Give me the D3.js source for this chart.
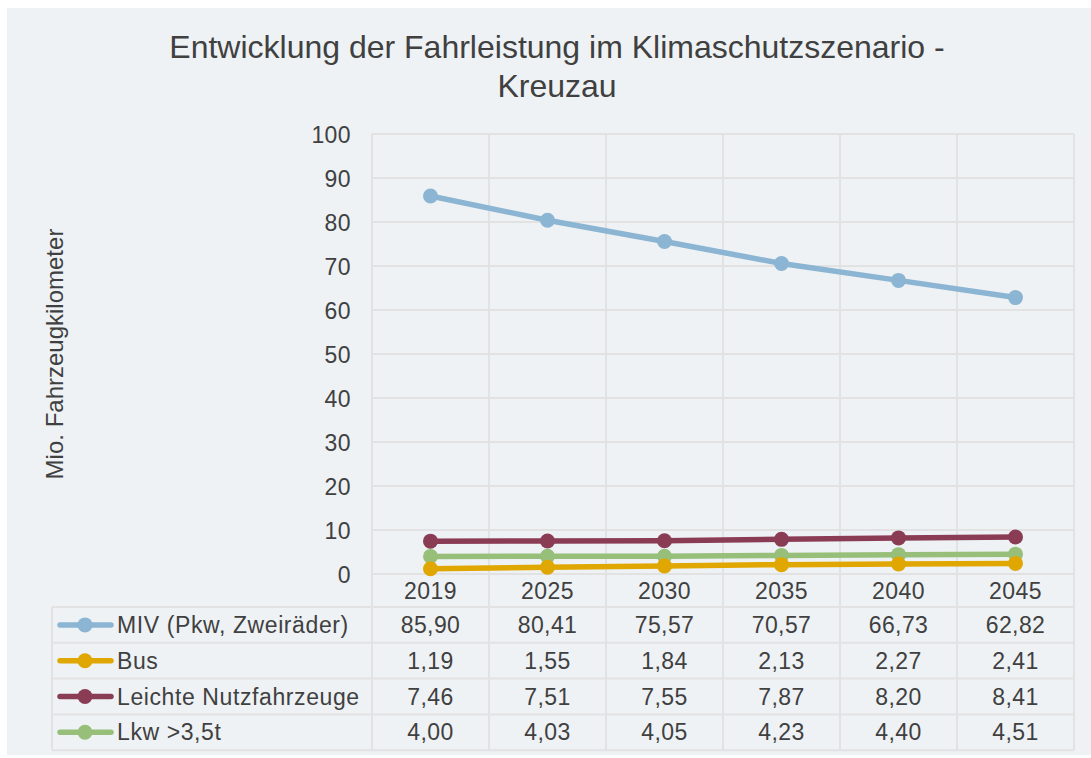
<!DOCTYPE html>
<html><head><meta charset="utf-8">
<script src="https://cdn.jsdelivr.net/npm/d3@7"></script>
<style>body{margin:0;background:#fff;} svg{display:block;font-family:"Liberation Sans",Arial,sans-serif;}</style>
</head><body>
<svg id="c" width="1091" height="758"></svg>
<script>
const years = ["2019","2025","2030","2035","2040","2045"];
const seriesNames = ["MIV (Pkw, Zweiräder)","Bus","Leichte Nutzfahrzeuge","Lkw >3,5t"];
const miv = [85.90,80.41,75.57,70.57,66.73,62.82];
const bus = [1.19,1.55,1.84,2.13,2.27,2.41];
const lnf = [7.46,7.51,7.55,7.87,8.20,8.41];
const lkw = [4.00,4.03,4.05,4.23,4.40,4.51];
const colors = ["#8bb5d2","#e0a602","#8b3c55","#97bf79"];
const yTicks = [0,10,20,30,40,50,60,70,80,90,100];
const title = ["Entwicklung der Fahrleistung im Klimaschutzszenario -","Kreuzau"];
const yLabel = "Mio. Fahrzeugkilometer";

const series = [miv,bus,lnf,lkw];
const drawOrder = [0,2,3,1];
const svg = d3.select("#c");
const textCol = "#404040", gridCol = "#e2e2e2";
svg.append("rect").attr("x",7).attr("y",8).attr("width",1084).attr("height",747).attr("fill","#eef2f5");

const L=372,R=1074,T=134,B=574;
const x = d3.scaleBand().domain(years).range([L,R]);
const y = d3.scaleLinear().domain([0,100]).range([B,T]);

// title
svg.append("g").selectAll("text").data(title).join("text")
  .attr("x",557).attr("y",(d,i)=>58+i*39).attr("text-anchor","middle")
  .attr("font-size",32).attr("fill",textCol).text(d=>d);

// grid
const g = svg.append("g");
g.selectAll("line.h").data(yTicks).join("line")
  .attr("x1",L).attr("x2",R).attr("y1",d=>y(d)).attr("y2",d=>y(d))
  .attr("stroke",gridCol).attr("stroke-width",2);
const rowH = 35.8;
const tableTop = 607, tableBottom = tableTop + rowH*4;
const vx = years.map(d=>x(d)).concat([R]);
g.selectAll("line.v").data(vx).join("line")
  .attr("x1",d=>d).attr("x2",d=>d).attr("y1",T).attr("y2",tableBottom)
  .attr("stroke",gridCol).attr("stroke-width",2);
const rowsY = d3.range(5).map(i=>tableTop+i*rowH);
g.selectAll("line.r").data(rowsY).join("line")
  .attr("x1",52).attr("x2",R).attr("y1",d=>d).attr("y2",d=>d)
  .attr("stroke",gridCol).attr("stroke-width",2);
g.append("line").attr("x1",52).attr("x2",52).attr("y1",tableTop).attr("y2",tableBottom)
  .attr("stroke",gridCol).attr("stroke-width",2);

// y ticks
svg.append("g").selectAll("text").data(yTicks).join("text")
  .attr("x",351).attr("y",d=>y(d)+8.5).attr("text-anchor","end")
  .attr("font-size",23).attr("letter-spacing",0.4).attr("fill",textCol).text(d=>d);
// x labels
svg.append("g").selectAll("text").data(years).join("text")
  .attr("x",d=>x(d)+x.bandwidth()/2).attr("y",599).attr("text-anchor","middle")
  .attr("font-size",23).attr("letter-spacing",0.4).attr("fill",textCol).text(d=>d);
// y label
svg.append("text").attr("transform","translate(63,354) rotate(-90)")
  .attr("text-anchor","middle").attr("font-size",24).attr("fill",textCol).text(yLabel);

// lines
const line = d3.line().x((d,i)=>x(years[i])+x.bandwidth()/2).y(d=>y(d));
drawOrder.forEach(si=>{
  const s = series[si];
  svg.append("path").attr("d",line(s)).attr("fill","none").attr("stroke",colors[si])
    .attr("stroke-width",5.5).attr("stroke-linecap","round");
  svg.append("g").selectAll("circle").data(s).join("circle")
    .attr("cx",(d,i)=>x(years[i])+x.bandwidth()/2).attr("cy",d=>y(d)).attr("r",7.5)
    .attr("fill",colors[si]);
});

// table
const fmt = v=>v.toFixed(2).replace(".",",");
seriesNames.forEach((name,si)=>{
  const cy = tableTop + rowH*si + rowH/2;
  svg.append("line").attr("x1",60).attr("x2",111).attr("y1",cy).attr("y2",cy)
    .attr("stroke",colors[si]).attr("stroke-width",5.5).attr("stroke-linecap","round");
  svg.append("circle").attr("cx",85).attr("cy",cy).attr("r",7.5).attr("fill",colors[si]);
  svg.append("text").attr("x",117).attr("y",cy+8).attr("font-size",23).attr("letter-spacing",0.6)
    .attr("fill",textCol).text(name);
  svg.append("g").selectAll("text").data(series[si]).join("text")
    .attr("x",(d,i)=>x(years[i])+x.bandwidth()/2).attr("y",cy+8).attr("text-anchor","middle")
    .attr("font-size",23).attr("letter-spacing",0.4).attr("fill",textCol).text(d=>fmt(d));
});
</script>
</body></html>
